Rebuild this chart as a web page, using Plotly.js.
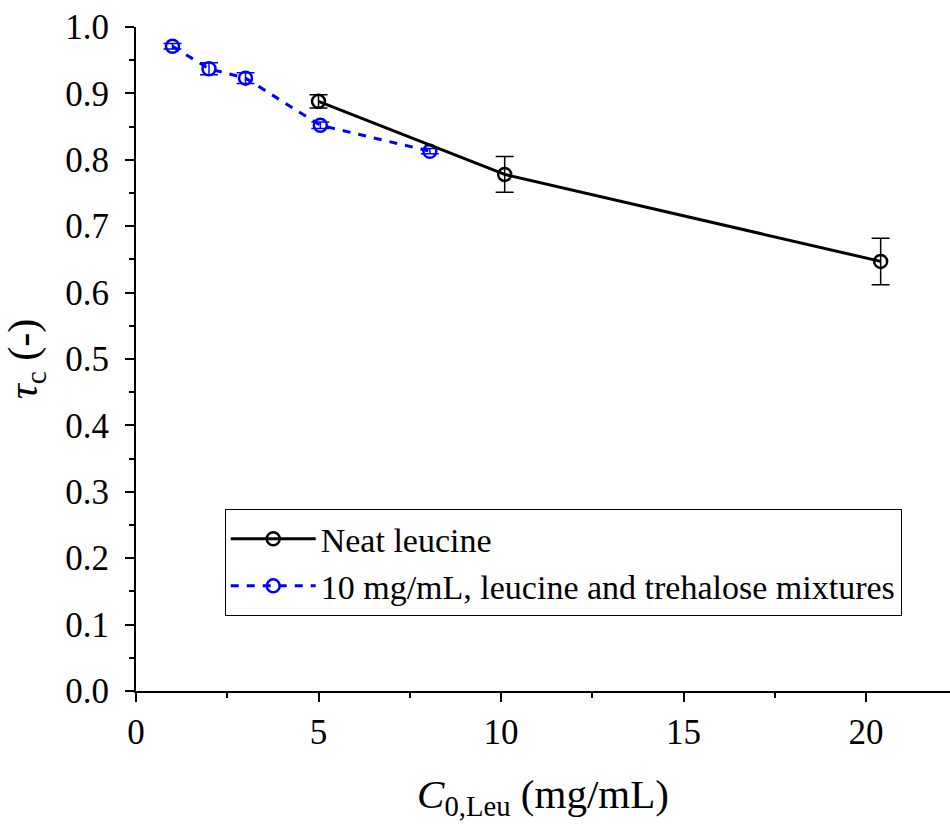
<!DOCTYPE html>
<html>
<head>
<meta charset="utf-8">
<script src="https://cdn.plot.ly/plotly-3.0.1.min.js"></script>
<style>html,body{margin:0;padding:0;background:#fff;}</style>
</head>
<body>
<div id="chart" style="width:950px;height:825px;"></div>
<script>
const neatX = [5.0, 10.1, 20.4];
const neatY = [0.888, 0.778, 0.647];
const neatErr = [0.010, 0.027, 0.035];

const mixX = [1.0, 2.0, 3.0, 5.05, 8.05];
const mixY = [0.971, 0.937, 0.923, 0.852, 0.813];
const mixErr = [0.004, 0.009, 0.008, 0.005, 0.004];

const neatName = 'Neat leucine';
const mixName = '10 mg/mL, leucine and trehalose mixtures';

const font = 'Liberation Serif';
const tickFontFamily = '"Liberation Serif", "Times New Roman", Times, serif';

const traces = [
  {
    x: mixX, y: mixY, name: mixName, type: 'scatter', mode: 'lines+markers',
    line: {color: '#0000ff', width: 3, dash: '8px,8px'},
    marker: {symbol: 'circle-open', size: 13, color: '#0000ff', line: {width: 2.5, color: '#0000ff'}},
    error_y: {type: 'data', array: mixErr, visible: true, color: '#0000ff', thickness: 1.5, width: 9},
    legendrank: 2
  },
  {
    x: neatX, y: neatY, name: neatName, type: 'scatter', mode: 'lines+markers',
    line: {color: '#000000', width: 3},
    marker: {symbol: 'circle-open', size: 13, color: '#000000', line: {width: 2.5, color: '#000000'}},
    error_y: {type: 'data', array: neatErr, visible: true, color: '#000000', thickness: 1.5, width: 9},
    legendrank: 1
  }
];

const layout = {
  width: 950, height: 825,
  margin: {l: 136, r: 0, t: 27, b: 134},
  paper_bgcolor: '#fff', plot_bgcolor: '#fff',
  font: {family: font, size: 34, color: '#000'},
  xaxis: {
    range: [0, 22.3], showgrid: false, zeroline: false,
    showline: true, linecolor: '#000', linewidth: 2,
    ticks: 'outside', ticklen: 9, tickwidth: 2, tickcolor: '#000',
    tickmode: 'linear', tick0: 0, dtick: 5,
    minor: {ticks: 'outside', ticklen: 5, tickwidth: 2, tickcolor: '#000', dtick: 2.5},
    tickfont: {family: tickFontFamily, size: 35, color: '#000'},
    title: {text: '<i>C</i><sub>0,Leu</sub> (mg/mL)', font: {family: font, size: 41, color: '#000'}, standoff: 28}
  },
  yaxis: {
    range: [0, 1.0], showgrid: false, zeroline: false,
    showline: true, linecolor: '#000', linewidth: 2,
    ticks: 'outside', ticklen: 9, tickwidth: 2, tickcolor: '#000',
    tickmode: 'linear', tick0: 0, dtick: 0.1, tickformat: '.1f', ticklabelstandoff: 9,
    minor: {ticks: 'outside', ticklen: 5, tickwidth: 2, tickcolor: '#000', dtick: 0.05},
    tickfont: {family: tickFontFamily, size: 35, color: '#000'},
    title: {text: '<i>τ</i><sub>c</sub> (-)', font: {family: font, size: 42, color: '#000'}, standoff: 16}
  },
  legend: {
    x: 0.109, y: 0.274, xanchor: 'left', yanchor: 'top',
    bgcolor: '#fff', bordercolor: '#000', borderwidth: 1,
    font: {family: font, size: 34, color: '#000'},
    traceorder: 'normal', itemwidth: 85, tracegroupgap: 0
  },
  showlegend: true
};

Plotly.newPlot('chart', traces, layout, {displayModeBar: false, staticPlot: true});
</script>
</body>
</html>
